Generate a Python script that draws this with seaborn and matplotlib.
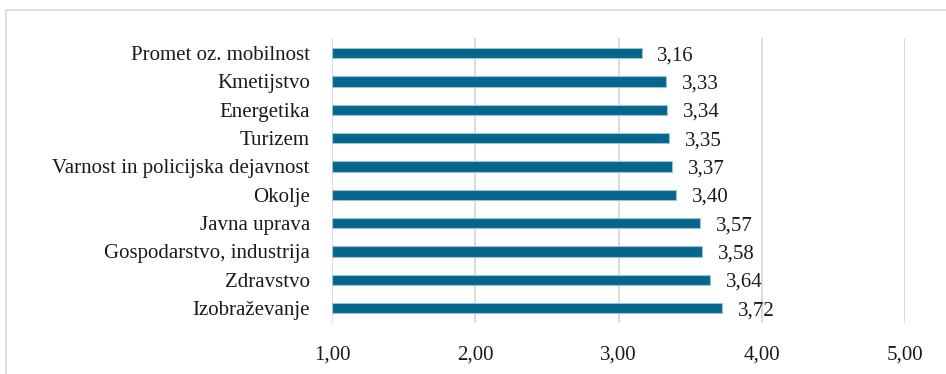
import pandas as pd
import seaborn as sns
import matplotlib.pyplot as plt
from matplotlib.patches import Rectangle

categories = ['Promet oz. mobilnost', 'Kmetijstvo', 'Energetika', 'Turizem',
              'Varnost in policijska dejavnost', 'Okolje', 'Javna uprava',
              'Gospodarstvo, industrija', 'Zdravstvo', 'Izobraževanje']
values = [3.16, 3.33, 3.34, 3.35, 3.37, 3.40, 3.57, 3.58, 3.64, 3.72]
x_ticks = [1, 2, 3, 4, 5]

df = pd.DataFrame({'area': categories, 'score': values})

sns.set_style('white')
plt.rcParams['font.family'] = ['Liberation Serif', 'DejaVu Serif']

fig = plt.figure(figsize=(9.46, 3.74), dpi=100)
ax = fig.add_axes([0.351, 0.136, 0.606, 0.762])

# outer chart frame (only top/left visible in the crop)
fig.patches.append(Rectangle((6 / 946, -0.1), 2, 1 - 10 / 374 + 0.1, transform=fig.transFigure,
                             fill=False, edgecolor='#d9d9d9', linewidth=1.2))

# bars start at 1, so plot the excess over 1 with left=1
ax.barh(df['area'], df['score'] - 1, left=1, height=0.36, color='#06658c',
        edgecolor='#9cc3d5', linewidth=0.8, zorder=3)

for i, v in enumerate(df['score']):
    ax.text(v + 0.11, i, f'{v:.2f}'.replace('.', ','), va='center_baseline', ha='left',
            fontsize=15, color='#1a1a1a')

ax.set_xlim(1, 5)
ax.set_ylim(len(categories) - 0.47, -0.53)
ax.set_xticks(x_ticks)
ax.set_xticklabels([f'{t:.2f}'.replace('.', ',') for t in x_ticks], fontsize=15)
ax.tick_params(axis='y', labelsize=15, length=0, pad=16, labelcolor='#1a1a1a')
ax.tick_params(axis='x', length=0, pad=16, labelcolor='#1a1a1a')
for lbl in ax.get_yticklabels():
    lbl.set_va('center_baseline')
ax.xaxis.grid(True, color='#d9d9d9', linewidth=1.3, zorder=0)
ax.yaxis.grid(False)
for s in ax.spines.values():
    s.set_visible(False)
ax.set_xlabel('')
ax.set_ylabel('')

plt.savefig('out.png', dpi=100)
